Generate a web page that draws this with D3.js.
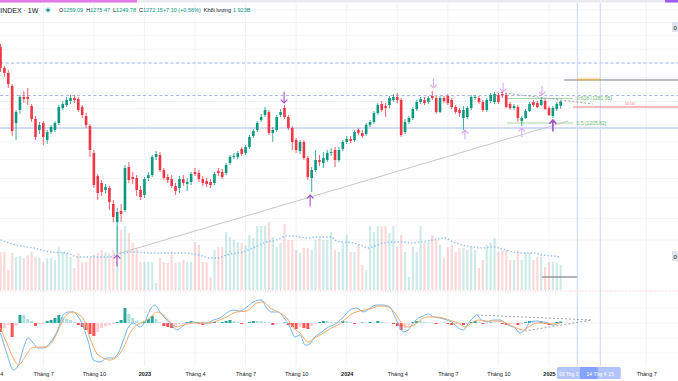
<!DOCTYPE html>
<html><head><meta charset="utf-8">
<script src="https://cdn.jsdelivr.net/npm/d3@7"></script>
<style>
html,body{margin:0;padding:0;background:#fff;overflow:hidden}
svg{display:block;font-family:"Liberation Sans",Arial,sans-serif}
</style></head><body>
<svg id="c" width="678" height="381"></svg>
<script>
// ---------- DATA (weekly bars, index 0 = first bar) ----------
const open = [
1458,1384,1366.5,1323,1205.8,1245.6,1286.8,1286.8,1258.1,1218,
1184.9,1205.8,1155.7,1179,1184.9,1205.8,1251.8,1261.3,1274,1283.6,
1280.4,1255,1227.1,1196.8,1118.7,1056.2,1037.9,1019.9,1025.1,984.8,
941.5,967.7,970.1,1080.2,1053.5,1051,1019.9,1007.2,1051,1058.8,
1107.5,1113.1,1072.1,1053.5,1048.3,1030.1,1025.1,1048.3,1035.3,1040.5,
1066.8,1064.1,1048.3,1043.1,1040.5,1037.9,1069.4,1066.8,1064.1,1091,
1107.5,1107.5,1129.9,1118.7,1135.6,1167.3,1184.9,1214.9,1230.2,1239.5,
1176.1,1184.9,1230.2,1251.8,1224,1190.9,1155.7,1124.3,1150,1104.8,
1051,1072.1,1099.3,1091,1099.3,1118.7,1127.1,1099.3,1129.9,1150,
1158.6,1155.7,1184.9,1176.1,1173.1,1199.8,1208.9,1236.4,1264.5,1258.1,
1261.3,1277.2,1286.8,1277.2,1179,1208.9,1221,1248.7,1270.8,1277.2,
1270.8,1290,1283.6,1239.5,1283.6,1290,1277.2,1255,1245.6,1221,
1224,1251.8,1283.6,1283.6,1270.8,1245.6,1274,1270.8,1293.2,1296.4,
1293.2,1264.5,1251.8,1255,1211.9,1221,1242.5,1270.8,1267.6,1261.3,
1274,1251.8,1227.1,1248.7,1259.09];
const high = [
1469,1390.5,1377,1329,1245.6,1293.2,1306.3,1316,1264.5,1227.1,
1208.9,1211.9,1184.9,1199.8,1211.9,1261.3,1274,1286.8,1293.2,1293.2,
1286.8,1261.3,1236.4,1202.8,1127.1,1061.5,1045.7,1035.3,1030.1,994.7,
974.9,984.8,1085.6,1093.8,1066.8,1058.8,1030.1,1053.5,1066.8,1113.1,
1124.3,1121.5,1077.5,1061.5,1058.8,1037.9,1056.2,1058.8,1051,1066.8,
1077.5,1072.1,1056.2,1051,1048.3,1066.8,1077.5,1074.8,1091,1113.1,
1118.7,1124.3,1135.6,1141.3,1170.2,1187.9,1211.9,1233.3,1255,1245.6,
1193.8,1230.2,1248.7,1261.3,1230.2,1196.8,1161.6,1155.7,1155.7,1110.3,
1080.2,1127.1,1113.1,1121.5,1127.1,1132.8,1135.6,1135.6,1155.7,1167.3,
1167.3,1184.9,1190.9,1184.9,1205.8,1214.9,1242.5,1267.6,1274,1267.6,
1290,1296.4,1299.7,1283.6,1218,1227.1,1255,1277.2,1286.8,1286.8,
1290,1306.3,1290,1290,1290,1296.4,1283.6,1261.3,1251.8,1258.1,
1258.1,1293.2,1293.2,1290,1277.2,1283.6,1299.7,1303,1299.7,1306.3,
1299.7,1270.8,1264.5,1261.3,1227.1,1248.7,1270.8,1277.2,1274,1283.6,
1280.4,1258.1,1258.1,1270.8,1275.47];
const low = [
1370,1353,1316,1167.3,1155.7,1233.3,1267.6,1261.3,1208.9,1155.7,
1173.1,1141.3,1144.2,1173.1,1179,1199.8,1245.6,1255,1264.5,1267.6,
1239.5,1221,1190.9,1107.5,1025.1,994.7,1004.7,1012.3,970.1,941.5,
871.2,941.5,965.3,1037.9,1035.3,1004.7,994.7,999.7,1043.1,1053.5,
1099.3,1066.8,1045.7,1037.9,1025.1,1007.2,1012.3,1030.1,1017.4,1032.7,
1056.2,1040.5,1030.1,1027.6,1025.1,1032.7,1056.2,1048.3,1058.8,1085.6,
1102,1102,1110.3,1113.1,1129.9,1161.6,1179,1208.9,1224,1170.2,
1150,1179,1224,1218,1184.9,1127.1,1118.7,1115.9,1099.3,1045.7,
1014.8,1066.8,1082.9,1077.5,1093.8,1110.3,1080.2,1093.8,1124.3,1144.2,
1147.1,1150,1170.2,1161.6,1167.3,1193.8,1202.8,1230.2,1239.5,1224,
1251.8,1270.8,1267.6,1164.5,1173.1,1202.8,1214.9,1242.5,1264.5,1261.3,
1264.5,1277.2,1233.3,1236.4,1267.6,1261.3,1248.7,1233.3,1224,1184.9,
1218,1245.6,1277.2,1264.5,1239.5,1239.5,1267.6,1264.5,1264.5,1283.6,
1251.8,1245.6,1245.6,1208.9,1196.8,1218,1239.5,1255,1251.8,1258.1,
1245.6,1227.1,1221,1242.5,1249.78];
const close = [
1384,1366.5,1329,1182,1239.5,1286.8,1280.4,1280.4,1218,1164.5,
1199.8,1164.5,1179,1193.8,1205.8,1255,1264.5,1277.2,1283.6,1277.2,
1245.6,1230.2,1199.8,1127.1,1032.7,1012.3,1014.8,1027.6,989.8,953.3,
965.3,960.5,1077.5,1045.7,1048.3,1019.9,1002.2,1048.3,1058.8,1107.5,
1115.9,1072.1,1051,1045.7,1030.1,1017.4,1048.3,1037.9,1040.5,1061.5,
1061.5,1048.3,1037.9,1035.3,1032.7,1061.5,1064.1,1053.5,1085.6,1107.5,
1110.3,1118.7,1115.9,1135.6,1164.5,1182,1205.8,1224,1245.6,1176.1,
1184.9,1224,1239.5,1224,1190.9,1150,1127.1,1150,1104.8,1053.5,
1072.1,1099.3,1093.8,1104.8,1118.7,1121.5,1099.3,1127.1,1150,1158.6,
1152.8,1179,1176.1,1167.3,1199.8,1208.9,1236.4,1261.3,1245.6,1251.8,
1283.6,1286.8,1277.2,1170.2,1208.9,1221,1248.7,1270.8,1280.4,1267.6,
1283.6,1283.6,1239.5,1283.6,1274,1267.6,1255,1239.5,1236.4,1245.6,
1251.8,1286.8,1286.8,1270.8,1245.6,1277.2,1293.2,1296.4,1270.8,1293.2,
1255,1251.8,1258.1,1221,1221,1242.5,1264.5,1261.3,1255,1277.2,
1248.7,1230.2,1251.8,1264.5,1272.15];
// volume, billions of shares
const volume = [
2.92,2.92,1.54,2.85,2.54,2.62,2.46,2.69,2.92,2.54,
2.46,2.15,2.46,2.46,2.31,3.31,2.92,2.85,2.54,1.69,
2.85,2.15,2.15,2.46,2.69,2.85,3.08,2.92,2.85,3.08,
4.92,4.62,4.92,4.38,3.62,3.23,2.15,2.15,2.15,2.15,
0.54,2.46,2.15,2.08,3.0,2.08,2.15,2.31,2.15,2.15,
3.69,3.46,2.15,2.15,1.0,3.08,3.31,3.31,4.46,4.08,
3.85,3.69,3.62,3.46,4.23,4.0,4.92,4.92,4.92,5.23,
4.08,3.31,3.62,5.08,3.85,3.85,3.08,2.85,3.23,3.23,
3.08,3.85,4.0,3.85,3.85,4.46,3.08,2.92,3.62,4.23,
2.92,2.92,3.46,1.92,1.54,4.92,4.46,4.92,4.92,4.92,
4.38,4.92,3.31,4.23,2.92,1.0,3.31,2.92,4.92,3.69,
3.69,4.23,3.85,3.46,2.46,3.31,3.46,2.92,3.23,3.23,
3.08,3.31,3.08,1.69,2.31,3.46,3.62,4.0,2.92,3.08,
3.08,2.31,2.31,3.08,2.31,2.85,2.85,2.31,2.54,2.54,
1.77,2.15,2.15,2.08,1.923];
const volMAIdx = [0,4,8.5,13,17,20,24,28,30,34,38.4,43,47,51,54,56,58,62,65,67.6,71,73.6,75.3,79,81.3,85,86.5,90.6,92.4,94.5,96.8,100.1,103.5,105.8,107.8,111.2,114.3,116.3,118.9,121.5,124,126.7,129.2,131.8,134.4,136.9,139.5,142,144];
const volMA = [3.85,3.46,3.23,2.92,2.85,2.54,2.54,2.54,2.77,2.92,2.85,2.85,2.85,2.69,2.46,2.46,2.69,2.92,3.23,3.62,3.85,4.15,4.15,4.0,4.08,4.08,3.75,3.62,3.46,3.23,3.46,3.69,3.69,3.62,3.69,3.85,4.0,3.69,3.46,3.31,3.23,3.31,3.15,2.92,2.85,2.85,2.69,2.62,2.54];
// MACD
const macdIdx = [0,1.6,3.3,4.6,5.9,7.1,8.4,9.7,11,12.7,14.9,16.1,17.4,18.7,20,21.3,22.6,23.9,25.6,27.3,29,30.3,31.6,32.9,34.1,35.9,37.1,38.4,39.7,41,42.7,44,45.3,46.6,47.9,49.6,51.3,53,54.7,56.4,58.1,59.8,61.6,63.3,65,67.1,68.4,69.7,71.4,72.7,74.4,75.7,77,78.3,79.1,80.8,82.6,84.3,85.6,86.8,88.6,89.8,91.6,93.3,95,96.7,98.4,100.1,101.4,102.7,103.5,104.8,106.1,107.4,108.7,110,111.3,113,114.7,116.4,117.7,119,120.3,121.5,122.4,123.7,125,126.7,128.4,129.7,131,132.3,133.5,134.8,136.1,137.8,139.5,140.8,142.1,143.4,144];
const macdVal = [-18,-54,-84.6,-75.6,-45,-27,-36,-45,-45,-36,-9,14.4,19.8,19.8,10.8,-7.2,-34.2,-66.6,-70.2,-63,-63,-54,-30.6,-7.2,0,-7.2,1.8,23.4,32.4,19.8,5.4,-3.6,-12.6,-7.2,0,1.8,0,0,5.4,9,18,23.4,21.6,28.8,37.8,41.4,27,19.8,19.8,10.8,-7.2,-25.2,-21.6,-39.6,-39.6,-25.2,-16.2,-7.2,-3.6,1.8,14.4,23.4,27,19.8,27,32.4,32.4,28.8,10.8,-7.2,-16.2,-12.6,0,9,12.6,16.2,10.8,9,5.4,0,-9,-12.6,0,9,14.4,5.4,1.8,5.4,5.4,0,-5.4,-9,-18,-12.6,1.8,3.6,1.8,0,-3.6,0,1.8];
const sigIdx = [0,1.6,3.3,4.6,6.3,8,9.7,11.9,14,15.7,17,18.3,20,21.7,23,24.7,26.4,28.1,29.9,31.6,33.3,35,36.7,38.4,40.2,41.9,43.6,45.3,47,49.6,53,55.6,58.1,60.7,63.3,65.9,67.6,69.3,71.4,73.6,75.3,77,79.1,80.8,83,85.1,86.8,89,90.7,92.4,95,97.6,99.7,101.4,103.1,104.4,105.7,107.4,109.6,111.7,113.8,116,117.7,119.4,121.1,122.8,125,127.1,129.3,131,132.7,134.4,136.1,137.8,139.5,142.1,144];
const sigVal = [-9,-36,-63,-75.6,-61.2,-45,-43.2,-43.2,-25.2,0,14.4,19.8,16.2,1.8,-27,-54,-63,-66.6,-61.2,-45,-18,-3.6,1.8,9,19.8,14.4,1.8,-7.2,-3.6,0,0,3.6,10.8,19.8,21.6,36,37.8,27,19.8,9,-9,-18,-34.2,-27,-18,-9,-3.6,9,18,21.6,25.2,30.6,28.8,18,0,-7.2,-5.4,1.8,10.8,10.8,9,3.6,0,-7.2,0,5.4,3.6,3.6,1.8,-3.6,-9,-12.6,-5.4,0,0,-1.8,0];
const hist = [
-16.2,-9,-3.6,-25.2,-5.4,14.4,14.4,7.2,3.6,-5.4,
-1.8,-1.8,3.6,5.4,9,14.4,10.8,7.2,5.4,1.8,
-3.6,-7.2,-12.6,-19.8,-23.4,-16.2,-9,-5.4,-3.6,-1.8,
1.8,5.4,27,16.2,9,3.6,1.8,3.6,7.2,12.6,
7.2,1.8,-5.4,-7.2,-9,-5.4,-1.8,-1.8,1.8,3.6,
1.8,-1.8,-3.6,-1.8,-1.8,1.8,0.9,1.8,3.6,5.4,
3.6,1.8,-1.8,-0.9,1.8,3.6,3.6,3.6,1.8,0.9,
-3.6,-1.8,-0.9,0.9,-3.6,-7.2,-10.8,-7.2,-9,-10.8,
-5.4,-1.8,1.8,3.6,3.6,1.8,1.8,0.9,3.6,3.6,
1.8,-1.8,-0.9,0.9,0.9,1.8,0.9,3.6,1.8,0.9,
0.5,-1.8,-5.4,-12.6,-9,-3.6,1.8,3.6,3.6,1.8,
0.9,0.9,-1.8,-0.9,0.5,-1.8,-3.6,-1.8,-1.8,-3.6,
-1.8,1.8,3.6,1.8,-1.8,-0.9,0.9,0.9,0.5,-1.8,
-3.6,-1.8,-1.8,-3.6,-1.8,1.8,3.6,1.8,0.9,1.8,
-1.8,-3.6,-1.8,1.8,2.7];
// time axis
const tickIdx = [-2,11,24,37,50,63,76,89,102,115,128,141,166];
const tickLab = ['Tháng 4','Tháng 7','Tháng 10','2023','Tháng 4','Tháng 7','Tháng 10','2024','Tháng 4','Tháng 7','Tháng 10','2025','Tháng 7'];
// drawings
const dashLevels = [1401, 1291.7];
const dotLevel = 1272.4;
const solidLevel = 1190.8;
const fibLevels = [1281.95, 1205.82];
const fibLabels = ['0.618 (1281.95)', '0.5 (1205.82)'];
const fibFrom = 130.2, fibTo = 147.2;
const grayLevel = 1342.7, grayFrom = 144.9;
const orangeLevel = 1344, orangeFrom = 148.3, orangeTo = 154.2;
const redLevel = 1255, redFrom = 147.2;
const trendUp = [[29.95, 869], [145.9, 1211.8]];
const trendDown = [[127.6, 1303], [152.3, 1264.4]];
const vLines = [148.3, 154.2];
const vLineLabels = ["03 Thg 3 '25", "14 Thg 4 '25"];
const volLine = [[139.2, 1.0], [148.3, 1.0]];
const macdTri = [[[122.5, 14.4], [152.1, 5.4]], [[134.8, -14.4], [152.1, 5.4]]];
const arrowIdx =   [72.9, 79.6, 29.95, 142, 111.3, 129.2, 139.2, 119.4, 134];
const arrowPrice = [1267.6, 1007.2, 866.9, 1214.9, 1316, 1303, 1293.2, 1184.9, 1190.9];
const arrowDir =   ['down','up','up','up','down','down','down','up','up'];
const arrowDark =  [1,1,1,1,0,0,0,0,0];

// ---------- SCALES ----------
const svg = d3.select('#c');
const x = d3.scaleLinear().domain([0,144]).range([0.5,560.66]);
const y = d3.scaleLog().domain([794.3,1639.9]).range([290,0]);
const yV = d3.scaleLinear().domain([0,5.5]).range([290,218.5]);
const yM = d3.scaleLinear().domain([-90,60]).range([373,289.67]);
const UP='#089981', DN='#f23645';

// ---------- GRID ----------
const g0 = svg.append('g');
g0.selectAll('line.v').data(tickIdx).join('line')
  .attr('x1',d=>x(d)).attr('x2',d=>x(d)).attr('y1',3).attr('y2',366)
  .attr('stroke','#f0f3fa').attr('stroke-width',1);
const priceGrid = [900,950,1000,1050,1100,1150,1200,1250,1300,1350,1400,1450,1500,1550,1600];
g0.selectAll('line.h').data(priceGrid).join('line')
  .attr('x1',0).attr('x2',678).attr('y1',d=>y(d)).attr('y2',d=>y(d))
  .attr('stroke','#f2f4f9').attr('stroke-width',1);
const macdGrid = [-54,-27,0,27];
g0.selectAll('line.m').data(macdGrid).join('line')
  .attr('x1',0).attr('x2',678).attr('y1',d=>yM(d)).attr('y2',d=>yM(d))
  .attr('stroke','#f2f4f9').attr('stroke-width',1);

// top bar
svg.append('rect').attr('x',0).attr('y',0).attr('width',678).attr('height',2.5).attr('fill','#ececf0');
svg.append('rect').attr('x',0).attr('y',0).attr('width',137).attr('height',2.5).attr('fill','#e279ea');
svg.append('rect').attr('x',665).attr('y',0).attr('width',13).attr('height',2.5).attr('fill','#9d5cf0');

// ---------- VOLUME ----------
const idx = d3.range(open.length);
svg.append('g').selectAll('rect').data(idx).join('rect')
  .attr('x',i=>x(i)-1.1).attr('width',2.2)
  .attr('y',i=>yV(volume[i])).attr('height',i=>yV(0)-yV(volume[i]))
  .attr('fill',i=>close[i]>=open[i]?'rgba(38,166,154,0.22)':'rgba(239,83,80,0.22)');
svg.append('path').datum(d3.range(volMA.length))
  .attr('d',d3.line().x(k=>x(volMAIdx[k])).y(k=>yV(volMA[k])).curve(d3.curveMonotoneX))
  .attr('fill','none').attr('stroke','#8ec1f7').attr('stroke-width',1.4).attr('stroke-dasharray','1.4,2');
svg.append('line').attr('x1',x(volLine[0][0])).attr('x2',x(volLine[1][0]))
  .attr('y1',yV(volLine[0][1])).attr('y2',yV(volLine[1][1])).attr('stroke','#6a6d78').attr('stroke-width',1.2);

// ---------- LEVELS ----------
const gl = svg.append('g');
gl.selectAll('line.d').data(dashLevels).join('line')
  .attr('x1',0).attr('x2',678).attr('y1',d=>y(d)).attr('y2',d=>y(d))
  .attr('stroke','#aab4f0').attr('stroke-width',1).attr('stroke-dasharray','3,2.5');
gl.append('line').attr('x1',0).attr('x2',678).attr('y1',y(dotLevel)).attr('y2',y(dotLevel))
  .attr('stroke','#cfe8d6').attr('stroke-width',1).attr('stroke-dasharray','1,1.5');
gl.append('line').attr('x1',0).attr('x2',678).attr('y1',y(solidLevel)).attr('y2',y(solidLevel))
  .attr('stroke','#c4cffa').attr('stroke-width',1.6);
vLines.forEach(v=>gl.append('line').attr('x1',x(v)).attr('x2',x(v)).attr('y1',3).attr('y2',366)
  .attr('stroke','#d3dcfb').attr('stroke-width',1.2));
gl.append('line').attr('x1',x(grayFrom)).attr('x2',678).attr('y1',y(grayLevel)).attr('y2',y(grayLevel))
  .attr('stroke','#7b7e88').attr('stroke-width',1);
gl.append('line').attr('x1',x(orangeFrom)).attr('x2',x(orangeTo)).attr('y1',y(orangeLevel)).attr('y2',y(orangeLevel))
  .attr('stroke','#f2b33d').attr('stroke-width',2).attr('stroke-dasharray','2,1');
gl.append('line').attr('x1',x(redFrom)).attr('x2',678).attr('y1',y(redLevel)).attr('y2',y(redLevel))
  .attr('stroke','#f4747c').attr('stroke-width',1);
gl.append('text').attr('x',x(redFrom)+52).attr('y',y(redLevel)-2.5).attr('font-size',4).attr('fill','#f4747c').text('50.00');
fibLevels.forEach((f,k)=>{
  gl.append('line').attr('x1',x(fibFrom)).attr('x2',x(fibTo)).attr('y1',y(f)).attr('y2',y(f))
    .attr('stroke','#a5d6a7').attr('stroke-width',1);
  gl.append('text').attr('x',x(fibTo)+3.5).attr('y',y(f)+1.7).attr('font-size',5).attr('fill','#66bb6a').text(fibLabels[k]);
});
gl.append('line').attr('x1',x(trendUp[0][0])).attr('y1',y(trendUp[0][1])).attr('x2',x(trendUp[1][0])).attr('y2',y(trendUp[1][1]))
  .attr('stroke','#c8c8cc').attr('stroke-width',1);
gl.append('line').attr('x1',x(trendDown[0][0])).attr('y1',y(trendDown[0][1])).attr('x2',x(trendDown[1][0])).attr('y2',y(trendDown[1][1]))
  .attr('stroke','#a0a3ab').attr('stroke-width',1).attr('stroke-dasharray','2,2');

// ---------- CANDLES ----------
const gc = svg.append('g');
gc.selectAll('line').data(idx).join('line')
  .attr('x1',i=>x(i)).attr('x2',i=>x(i)).attr('y1',i=>y(high[i])).attr('y2',i=>y(low[i]))
  .attr('stroke',i=>close[i]>=open[i]?UP:DN).attr('stroke-width',0.8);
gc.selectAll('rect').data(idx).join('rect')
  .attr('x',i=>x(i)-1.3).attr('width',2.6)
  .attr('y',i=>y(Math.max(open[i],close[i])))
  .attr('height',i=>Math.max(0.8,Math.abs(y(open[i])-y(close[i]))))
  .attr('fill',i=>close[i]>=open[i]?UP:DN);

// ---------- ARROWS ----------
const ga = svg.append('g').attr('fill','none').attr('stroke-linecap','round');
arrowIdx.forEach((a,k)=>{
  const cx = x(a), ty = y(arrowPrice[k]);
  const len = arrowDark[k]?11:9, s = arrowDir[k]==='up'?1:-1;
  const col = arrowDark[k]?'#a64fc4':'#dcaaea';
  const w = (k===3)?1.6:1.1;
  ga.append('path').attr('d',`M${cx},${ty} L${cx},${ty+s*len} M${cx-3},${ty+s*3.2} L${cx},${ty} L${cx+3},${ty+s*3.2}`)
    .attr('stroke',col).attr('stroke-width',w);
});

// ---------- MACD ----------
svg.append('line').attr('x1',0).attr('x2',678).attr('y1',291).attr('y2',291)
  .attr('stroke','#f6c4cf').attr('stroke-width',1).attr('stroke-dasharray','1,1.5');
const gm = svg.append('g');
gm.selectAll('rect').data(idx).join('rect')
  .attr('x',i=>x(i)-1.5).attr('width',3)
  .attr('y',i=>Math.min(yM(0),yM(hist[i]))).attr('height',i=>Math.abs(yM(hist[i])-yM(0)))
  .attr('fill',i=>{const v=hist[i],p=i?hist[i-1]:0; return v>=0?(v>p?'#26a69a':'#b2dfdb'):(v<p?'#ff5252':'#ffcdd2');});
gm.append('path').datum(d3.range(macdVal.length))
  .attr('d',d3.line().x(k=>x(macdIdx[k])).y(k=>yM(macdVal[k])).curve(d3.curveMonotoneX))
  .attr('fill','none').attr('stroke','#6fb4f5').attr('stroke-width',1);
gm.append('path').datum(d3.range(sigVal.length))
  .attr('d',d3.line().x(k=>x(sigIdx[k])).y(k=>yM(sigVal[k])).curve(d3.curveMonotoneX))
  .attr('fill','none').attr('stroke','#f9a865').attr('stroke-width',1);
macdTri.forEach(s=>gm.append('line').attr('x1',x(s[0][0])).attr('y1',yM(s[0][1])).attr('x2',x(s[1][0])).attr('y2',yM(s[1][1]))
  .attr('stroke','#9598a1').attr('stroke-width',0.9).attr('stroke-dasharray','2,2'));

// ---------- TIME AXIS ----------
const ax = svg.append('g').attr('transform','translate(0,369)')
  .call(d3.axisBottom(x).tickValues(tickIdx).tickFormat((d,i)=>tickLab[i]).tickSize(0).tickPadding(3));
ax.select('.domain').remove();
ax.selectAll('text').attr('font-size',5.5).attr('fill','#131722')
  .attr('font-family','"Liberation Sans",Arial,sans-serif')
  .attr('font-weight',(d,i)=>/^\d{4}$/.test(tickLab[i])?'bold':'normal');
// highlighted date labels of the two vertical lines (second box covers the first one's tail)
const c1 = x(vLines[0]), c2 = x(vLines[1]);
const defs = svg.append('defs');
defs.append('clipPath').attr('id','clipA').append('rect')
  .attr('x',c1-20.5).attr('y',366).attr('width',(c2-20.5)-(c1-20.5)).attr('height',14);
svg.append('rect').attr('x',c1-20.5).attr('y',367).attr('width',41).attr('height',12).attr('rx',1.5)
  .attr('fill','#b3c6fb');
svg.append('text').attr('x',c1-18.5).attr('y',375.5).attr('font-size',5)
  .attr('clip-path','url(#clipA)').attr('fill','#fff').text(vLineLabels[0]);
svg.append('rect').attr('x',c2-20.5).attr('y',367).attr('width',41).attr('height',12).attr('rx',1.5)
  .attr('fill','rgba(70,115,250,0.42)');
svg.append('text').attr('x',c2).attr('y',375.5).attr('text-anchor','middle').attr('font-size',5)
  .attr('fill','#fff').text(vLineLabels[1]);

// ---------- HEADER ----------
const hd = svg.append('g');
hd.append('text').attr('x',-9.5).attr('y',12.5).attr('font-size',7).attr('fill','#131722').text('VNINDEX · 1W');
hd.append('circle').attr('cx',48).attr('cy',10).attr('r',3).attr('fill','rgba(8,153,129,0.18)');
hd.append('circle').attr('cx',48).attr('cy',10).attr('r',1.6).attr('fill',UP);
const ohlc = [['O','1259.09'],['H','1275.47'],['L','1249.78'],['C','1272.15'],['','+7.10 (+0.56%)'],['Khối lượng','1.923B']];
const tx = hd.append('text').attr('x',59).attr('y',12).attr('font-size',5.5);
ohlc.forEach((p,k)=>{
  tx.append('tspan').attr('fill','#131722').attr('dx',k?3:0).text(p[0]);
  tx.append('tspan').attr('fill',UP).attr('dx',(p[0]==='Khối lượng')?2:0).text(p[1]);
});
// right price-scale stubs
[[22,'0'],[251,'0']].forEach(b=>{
  svg.append('rect').attr('x',672).attr('y',b[0]).attr('width',8).attr('height',10).attr('fill','#e0e3eb');
  svg.append('text').attr('x',673.5).attr('y',b[0]+7.5).attr('font-size',6).attr('fill','#131722').text(b[1]);
});
</script>
</body></html>
